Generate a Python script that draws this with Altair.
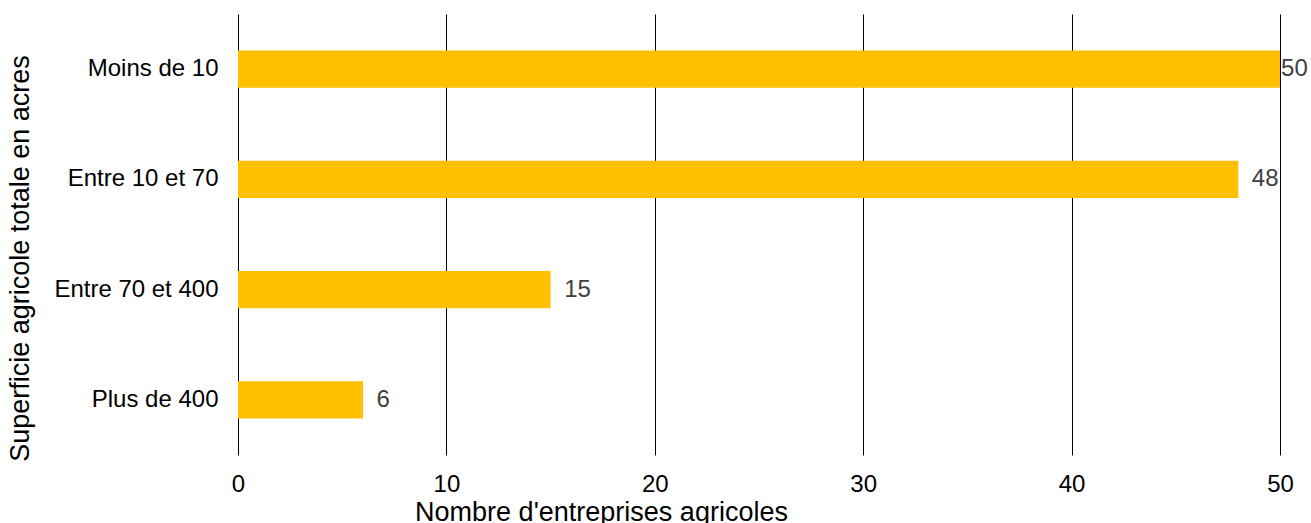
import altair as alt
import pandas as pd

categories = ["Moins de 10", "Entre 10 et 70", "Entre 70 et 400", "Plus de 400"]
values = [50, 48, 15, 6]

df = pd.DataFrame({"cat": categories, "val": values})

FONT = "Liberation Sans"

y_enc = alt.Y(
    "cat:N",
    sort=categories,
    scale=alt.Scale(paddingInner=0.66, paddingOuter=0.33),
    axis=alt.Axis(
        title="Superficie agricole totale en acres",
        labelFontSize=24, labelColor="#000000", labelFont=FONT,
        labelPadding=20, ticks=False, domain=False, grid=False,
        titleFontSize=27, titleFont=FONT, titleFontWeight="normal", titleColor="#000000",
        titleAngle=-90, titleX=-218, titleY=244, titleAlign="center", titleBaseline="middle",
    ),
)

x_scale = alt.Scale(domain=[0, 50], nice=False)

bars = alt.Chart(df).mark_bar(color="#FFC000").encode(
    x=alt.X(
        "val:Q",
        scale=x_scale,
        axis=alt.Axis(
            title="Nombre d'entreprises agricoles",
            values=[0, 10, 20, 30, 40, 50],
            labelFontSize=24, labelColor="#000000", labelFont=FONT,
            labelPadding=17, labelFlush=False, ticks=False, domain=False,
            grid=True, gridColor="#000000", gridWidth=1, gridOpacity=1,
            titleFontSize=27, titleFont=FONT, titleFontWeight="normal", titleColor="#000000",
            titleX=363, titleY=57, titleAlign="center", titleBaseline="middle",
        ),
    ),
    y=y_enc,
)

labels = alt.Chart(df).transform_calculate(
    lx="min(datum.val + 0.65, 50.05)"
).mark_text(
    align="left", baseline="middle", fontSize=24, font=FONT, color="#404040"
).encode(
    x=alt.X("lx:Q", scale=x_scale),
    y=alt.Y("cat:N", sort=categories),
    text=alt.Text("val:Q"),
)

chart = (bars + labels).properties(
    width=1042, height=441,
    background="white",
    autosize=alt.AutoSizeParams(type="none"),
    padding={"left": 238, "top": 14, "right": 31, "bottom": 68},
).configure_view(strokeOpacity=0, strokeWidth=0)

chart.save("out.html", embed_options={"renderer": "svg", "actions": False})
